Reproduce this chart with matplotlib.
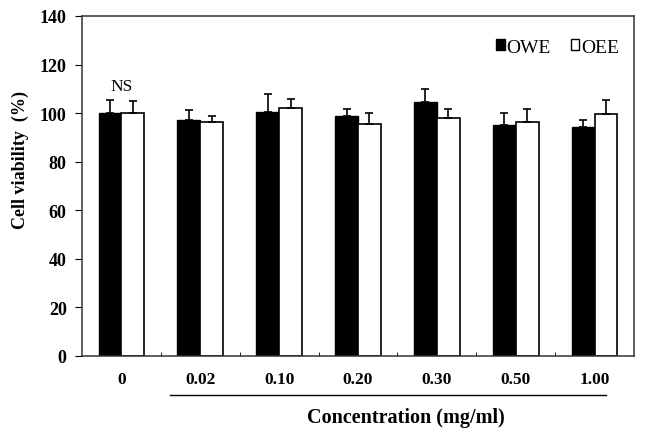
import numpy as np
import matplotlib.pyplot as plt
from matplotlib.patches import Patch

# data
conc = ['0', '0.02', '0.10', '0.20', '0.30', '0.50', '1.00']
owe = [100.0, 97.2, 100.3, 99.0, 104.7, 95.1, 94.1]
owe_err = [5.5, 4.0, 7.5, 2.8, 5.2, 4.9, 3.0]
oee = [100.0, 96.5, 102.2, 95.6, 98.1, 96.5, 99.6]
oee_err = [5.0, 2.5, 3.7, 4.5, 3.5, 5.1, 5.7]

plt.rcParams['font.family'] = ['Liberation Serif', 'DejaVu Serif']

fig = plt.figure(figsize=(6.55, 4.31), dpi=100)
ax = fig.add_axes([0.1252, 0.1717, 0.8427, 0.7889])

x = np.arange(len(conc))
w = 0.29
ax.bar(x - w / 2, owe, w, color='black', edgecolor='black', linewidth=1)
ax.bar(x + w / 2, oee, w, color='white', edgecolor='black', linewidth=1.2)
ax.errorbar(x - w / 2, owe, yerr=[np.zeros(len(x)), owe_err], fmt='none',
            ecolor='black', elinewidth=1.2, capsize=3, capthick=1.2)
ax.errorbar(x + w / 2, oee, yerr=[np.zeros(len(x)), oee_err], fmt='none',
            ecolor='black', elinewidth=1.2, capsize=3, capthick=1.2)

ax.set_xlim(-0.5, len(conc) - 0.5)
ax.set_ylim(0, 140)
ax.set_yticks(np.arange(0, 141, 20))
ax.set_xticks(x)
ax.set_xticklabels(conc, fontweight='bold', fontsize=12.5)
ax.set_xticks(x[:-1] + 0.5, minor=True)
ax.tick_params(axis='x', which='major', length=0, pad=11)
ax.tick_params(axis='x', which='minor', direction='in', length=3)
ax.tick_params(axis='y', direction='out', length=5, labelsize=13, pad=6)
for lab in ax.get_yticklabels():
    lab.set_fontweight('bold')
for s in ax.spines.values():
    s.set_linewidth(1.1)
    s.set_color('#333333')

ax.text(x[0], 111, 'NS', ha='center', va='center', fontsize=12.5)

handles = [Patch(facecolor='black', edgecolor='black'),
           Patch(facecolor='white', edgecolor='black')]
ax.legend(handles, ['OWE', 'OEE'], ncol=2, loc='upper right', frameon=False,
          fontsize=14, handlelength=0.45, handleheight=0.45, handletextpad=0.1,
          columnspacing=1.0, bbox_to_anchor=(1.005, 0.985))

# line under the nonzero concentrations
ax.plot([x[1] - 0.39, x[-1] + 0.15], [-0.115, -0.115], color='black', lw=1,
        transform=ax.get_xaxis_transform(), clip_on=False)

fig.text(406 / 655, 1 - 418 / 431, 'Concentration (mg/ml)', ha='center',
         va='center', fontsize=14.5, fontweight='bold')
fig.text(20 / 655, 1 - 160 / 431, 'Cell viability  (%)', ha='center',
         va='center', rotation=90, fontsize=13, fontweight='bold')

fig.savefig('out.png', dpi=100)
